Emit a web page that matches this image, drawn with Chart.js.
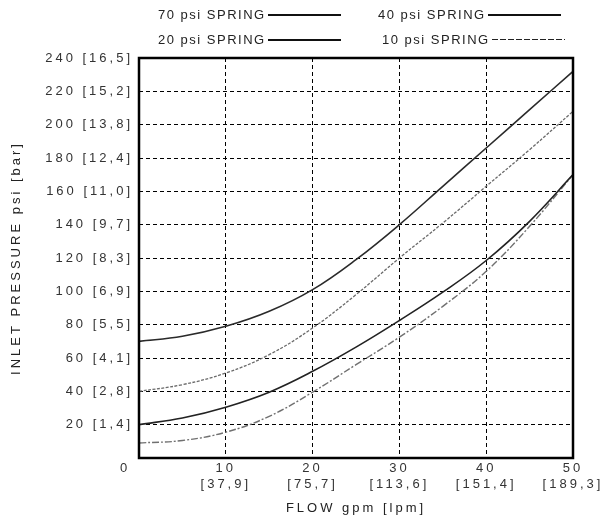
<!DOCTYPE html>
<html>
<head>
<meta charset="utf-8">
<script src="https://cdn.jsdelivr.net/npm/chart.js@4"></script>
<style>
  body { margin: 0; background: #fff; }
  #wrap { position: relative; width: 605px; height: 527px; }
  #chart { position: absolute; left: 0; top: 0; }
  .leg { position: absolute; display: flex; align-items: center; white-space: nowrap;
         font: 13px "Liberation Sans", Arial, sans-serif;
         letter-spacing: 1.5px; color: #222; }
  .leg .line { display: inline-block; width: 73px; height: 2px; margin-left: 2px; }
</style>
</head>
<body>
<div id="wrap">
  <canvas id="chart" width="605" height="527"></canvas>
  <div id="legend"></div>
</div>
<script>
// flow in gpm
const flow = [0, 5, 10, 15, 20, 25, 30, 35, 40, 45, 50];

// inlet pressure in psi
const spring70 = [70, 73, 79, 88, 101, 119, 140, 163, 186, 209, 232];
const spring40 = [40, 44, 51, 62, 78, 98, 120, 141, 163, 185, 208];
const spring20 = [20, 24, 30.5, 39.5, 52, 66.5, 82.5, 99.5, 118.5, 142, 170];
const spring10 = [9, 10.5, 15.5, 25, 39.5, 56, 72.5, 91, 112, 139, 170];

// axis tick labels
const psiTicks = [20, 40, 60, 80, 100, 120, 140, 160, 180, 200, 220, 240];
const barTicks = ["1,4", "2,8", "4,1", "5,5", "6,9", "8,3", "9,7", "11,0", "12,4", "13,8", "15,2", "16,5"];
const gpmTicks = [0, 10, 20, 30, 40, 50];
const lpmTicks = ["", "37,9", "75,7", "113,6", "151,4", "189,3"];

const FONT = '"Liberation Sans", Arial, sans-serif';
const SPACING = "3px";

const series = [
    { label: "70 psi SPRING", data: spring70, color: "#2a2a2a", width: 1.6, dash: [] },
    { label: "40 psi SPRING", data: spring40, color: "#6a6a6a", width: 1.3, dash: [3, 1.5] },
    { label: "20 psi SPRING", data: spring20, color: "#222222", width: 1.6, dash: [] },
    { label: "10 psi SPRING", data: spring10, color: "#707070", width: 1.4, dash: [7, 2, 2, 2] }
];

// legend (text followed by a line sample), two columns
const legendPos = [[158, 7], [378, 7], [158, 32], [382, 32]];
const legendEl = document.getElementById("legend");
series.forEach((s, i) => {
    const item = document.createElement("div");
    item.className = "leg";
    item.style.left = legendPos[i][0] + "px";
    item.style.top = legendPos[i][1] + "px";
    const txt = document.createElement("span");
    txt.textContent = s.label;
    const ln = document.createElement("span");
    ln.className = "line";
    if (s.dash.length > 2) {
        ln.style.background = "repeating-linear-gradient(90deg, #222 0 6px, transparent 6px 8px)";
        ln.style.height = "1.5px";
    } else {
        ln.style.background = "#111";
    }
    item.appendChild(txt);
    item.appendChild(ln);
    legendEl.appendChild(item);
});

const spacingPlugin = {
    id: "spacing",
    beforeLayout(chart) { chart.ctx.letterSpacing = SPACING; },
    beforeDraw(chart) { chart.ctx.letterSpacing = SPACING; }
};

// frame round the plot and the lone "0" left of the axis
const framePlugin = {
    id: "frame",
    afterDraw(chart) {
        const { ctx, chartArea: a, scales } = chart;
        ctx.save();
        ctx.strokeStyle = "#000";
        ctx.lineWidth = 2.5;
        ctx.strokeRect(a.left, a.top, a.right - a.left, a.bottom - a.top);
        ctx.letterSpacing = SPACING;
        ctx.fillStyle = "#333";
        ctx.font = "13px " + FONT;
        ctx.textAlign = "center";
        ctx.textBaseline = "middle";
        ctx.fillText(String(gpmTicks[0]), scales.x.getPixelForValue(gpmTicks[0]) - 14, a.bottom + 10);
        ctx.restore();
    }
};

const ctx = document.getElementById("chart").getContext("2d");
new Chart(ctx, {
    type: "line",
    data: {
        datasets: series.map(s => ({
            label: s.label,
            data: flow.map((x, i) => ({ x: x, y: s.data[i] })),
            borderColor: s.color,
            borderWidth: s.width,
            borderDash: s.dash,
            pointRadius: 0,
            fill: false,
            tension: 0.4
        }))
    },
    options: {
        responsive: false,
        animation: false,
        layout: { padding: { top: 58, right: 32, bottom: 0, left: 0 } },
        plugins: { legend: { display: false }, tooltip: { enabled: false } },
        scales: {
            x: {
                type: "linear",
                min: 0,
                max: 50,
                afterBuildTicks: scale => { scale.ticks = gpmTicks.map(v => ({ value: v })); },
                afterFit: scale => { scale.height = 69; scale.paddingLeft = 0; scale.paddingRight = 0; },
                grid: { color: "#000", lineWidth: 1, drawTicks: false },
                border: { display: false, dash: [4, 3] },
                ticks: {
                    maxRotation: 0,
                    padding: 3,
                    color: "#333",
                    font: { family: FONT, size: 13 },
                    callback: v => {
                        const i = gpmTicks.indexOf(v);
                        return i <= 0 ? "" : [String(v), "[" + lpmTicks[i] + "]"];
                    }
                },
                title: {
                    display: true,
                    text: "FLOW gpm [lpm]",
                    color: "#222",
                    font: { family: FONT, size: 13 },
                    padding: { top: 0, bottom: 11 }
                }
            },
            y: {
                min: 0,
                max: 240,
                afterBuildTicks: scale => { scale.ticks = [0].concat(psiTicks).map(v => ({ value: v })); },
                afterFit: scale => { scale.width = 139; scale.paddingTop = 0; scale.paddingBottom = 0; },
                grid: { color: "#000", lineWidth: 1, drawTicks: false },
                border: { display: false, dash: [4, 3] },
                ticks: {
                    padding: 6,
                    color: "#333",
                    font: { family: FONT, size: 13 },
                    callback: v => {
                        const i = psiTicks.indexOf(v);
                        return i < 0 ? "" : v + " [" + barTicks[i] + "]";
                    }
                },
                title: {
                    display: true,
                    text: "INLET PRESSURE psi [bar]",
                    color: "#222",
                    font: { family: FONT, size: 13 },
                    padding: { top: 9, bottom: 0 }
                }
            }
        }
    },
    plugins: [spacingPlugin, framePlugin]
});
</script>
</body>
</html>
